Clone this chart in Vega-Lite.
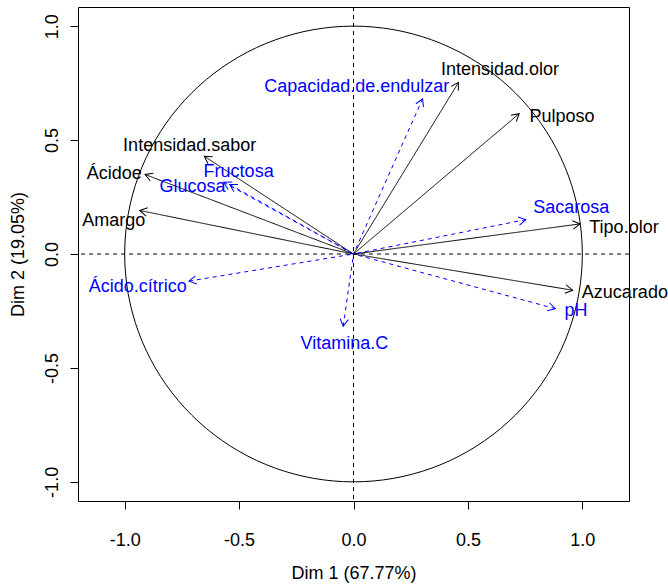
{
  "$schema": "https://vega.github.io/schema/vega-lite/v6.json",
  "width": 551,
  "height": 494,
  "autosize": {"type": "none"},
  "padding": {"left": 78, "top": 7, "right": 39, "bottom": 84},
  "background": "white",
  "config": {
    "view": {"stroke": "black", "strokeWidth": 1},
    "font": "Liberation Sans",
    "axis": {
      "domain": false,
      "grid": false,
      "tickColor": "black",
      "tickSize": 8,
      "labelColor": "black",
      "labelFontSize": 18,
      "labelFont": "Liberation Sans",
      "titleFont": "Liberation Sans",
      "titleFontSize": 18,
      "titleFontWeight": "normal",
      "titleColor": "black"
    }
  },
  "datasets": {
    "vars": [
      {"v": "Intensidad.olor", "t": "activa", "Dim1": 0.459, "Dim2": 0.753, "lx": 0.640, "ly": 0.807},
      {"v": "Pulposo", "t": "activa", "Dim1": 0.724, "Dim2": 0.616, "lx": 0.911, "ly": 0.603},
      {"v": "Tipo.olor", "t": "activa", "Dim1": 0.990, "Dim2": 0.132, "lx": 1.182, "ly": 0.116},
      {"v": "Azucarado", "t": "activa", "Dim1": 0.958, "Dim2": -0.159, "lx": 1.186, "ly": -0.169},
      {"v": "Intensidad.sabor", "t": "activa", "Dim1": -0.652, "Dim2": 0.429, "lx": -0.716, "ly": 0.476},
      {"v": "Ácidoe", "t": "activa", "Dim1": -0.911, "Dim2": 0.349, "lx": -1.046, "ly": 0.349},
      {"v": "Amargo", "t": "activa", "Dim1": -0.934, "Dim2": 0.191, "lx": -1.048, "ly": 0.143},
      {"v": "Capacidad.de.endulzar", "t": "suplementaria", "Dim1": 0.302, "Dim2": 0.681, "lx": 0.014, "ly": 0.735},
      {"v": "Sacarosa", "t": "suplementaria", "Dim1": 0.753, "Dim2": 0.151, "lx": 0.952, "ly": 0.200},
      {"v": "pH", "t": "suplementaria", "Dim1": 0.882, "Dim2": -0.240, "lx": 0.972, "ly": -0.252},
      {"v": "Vitamina.C", "t": "suplementaria", "Dim1": -0.045, "Dim2": -0.317, "lx": -0.040, "ly": -0.397},
      {"v": "Fructosa", "t": "suplementaria", "Dim1": -0.541, "Dim2": 0.305, "lx": -0.502, "ly": 0.362},
      {"v": "Glucosa", "t": "suplementaria", "Dim1": -0.567, "Dim2": 0.315, "lx": -0.704, "ly": 0.292},
      {"v": "Ácido.cítrico", "t": "suplementaria", "Dim1": -0.719, "Dim2": -0.119, "lx": -0.943, "ly": -0.143}
    ],
    "circle": [
      {"a": 0, "cx": 1, "cy": 0},
      {"a": 10, "cx": 0.9848, "cy": 0.1736},
      {"a": 20, "cx": 0.9397, "cy": 0.342},
      {"a": 30, "cx": 0.866, "cy": 0.5},
      {"a": 40, "cx": 0.766, "cy": 0.6428},
      {"a": 50, "cx": 0.6428, "cy": 0.766},
      {"a": 60, "cx": 0.5, "cy": 0.866},
      {"a": 70, "cx": 0.342, "cy": 0.9397},
      {"a": 80, "cx": 0.1736, "cy": 0.9848},
      {"a": 90, "cx": 0, "cy": 1},
      {"a": 100, "cx": -0.1736, "cy": 0.9848},
      {"a": 110, "cx": -0.342, "cy": 0.9397},
      {"a": 120, "cx": -0.5, "cy": 0.866},
      {"a": 130, "cx": -0.6428, "cy": 0.766},
      {"a": 140, "cx": -0.766, "cy": 0.6428},
      {"a": 150, "cx": -0.866, "cy": 0.5},
      {"a": 160, "cx": -0.9397, "cy": 0.342},
      {"a": 170, "cx": -0.9848, "cy": 0.1736},
      {"a": 180, "cx": -1, "cy": 0},
      {"a": 190, "cx": -0.9848, "cy": -0.1736},
      {"a": 200, "cx": -0.9397, "cy": -0.342},
      {"a": 210, "cx": -0.866, "cy": -0.5},
      {"a": 220, "cx": -0.766, "cy": -0.6428},
      {"a": 230, "cx": -0.6428, "cy": -0.766},
      {"a": 240, "cx": -0.5, "cy": -0.866},
      {"a": 250, "cx": -0.342, "cy": -0.9397},
      {"a": 260, "cx": -0.1736, "cy": -0.9848},
      {"a": 270, "cx": 0, "cy": -1},
      {"a": 280, "cx": 0.1736, "cy": -0.9848},
      {"a": 290, "cx": 0.342, "cy": -0.9397},
      {"a": 300, "cx": 0.5, "cy": -0.866},
      {"a": 310, "cx": 0.6428, "cy": -0.766},
      {"a": 320, "cx": 0.766, "cy": -0.6428},
      {"a": 330, "cx": 0.866, "cy": -0.5},
      {"a": 340, "cx": 0.9397, "cy": -0.342},
      {"a": 350, "cx": 0.9848, "cy": -0.1736}
    ]
  },
  "layer": [
    {
      "data": {"name": "circle"},
      "mark": {"type": "line", "color": "black", "strokeWidth": 1, "interpolate": "cardinal-closed"},
      "encoding": {
        "x": {
          "field": "cx", "type": "quantitative",
          "scale": {"domain": [-1.204, 1.204], "nice": false, "zero": false},
          "title": "Dim 1 (67.77%)",
          "axis": {
            "values": [-1, -0.5, 0, 0.5, 1],
            "labelExpr": "(datum.value < 0 ? '-' : '') + format(abs(datum.value), '.1f')",
            "labelPadding": 22,
            "titlePadding": 15
          }
        },
        "y": {
          "field": "cy", "type": "quantitative",
          "scale": {"domain": [-1.084, 1.084], "nice": false, "zero": false},
          "title": "Dim 2 (19.05%)",
          "axis": {
            "values": [-1, -0.5, 0, 0.5, 1],
            "labelExpr": "(datum.value < 0 ? '-' : '') + format(abs(datum.value), '.1f')",
            "labelAngle": -90,
            "labelAlign": "center",
            "labelBaseline": "bottom",
            "labelPadding": 9,
            "titlePadding": 16
          }
        },
        "order": {"field": "a", "type": "quantitative"}
      }
    },
    {
      "data": {"values": [{"z": 0}]},
      "mark": {"type": "rule", "color": "black", "strokeWidth": 1, "strokeDash": [4, 4]},
      "encoding": {"y": {"field": "z", "type": "quantitative", "title": "Dim 2 (19.05%)"}}
    },
    {
      "data": {"values": [{"z": 0}]},
      "mark": {"type": "rule", "color": "black", "strokeWidth": 1, "strokeDash": [4, 4]},
      "encoding": {"x": {"field": "z", "type": "quantitative", "title": "Dim 1 (67.77%)"}}
    },
    {
      "data": {"name": "vars"},
      "mark": {"type": "rule", "strokeWidth": 1},
      "encoding": {
        "x": {"field": "Dim1", "type": "quantitative", "title": "Dim 1 (67.77%)"},
        "y": {"field": "Dim2", "type": "quantitative", "title": "Dim 2 (19.05%)"},
        "x2": {"datum": 0},
        "y2": {"datum": 0},
        "color": {"field": "t", "type": "nominal", "scale": {"domain": ["activa", "suplementaria"], "range": ["#000000", "#0000ff"]}, "legend": null},
        "strokeDash": {"field": "t", "type": "nominal", "scale": {"domain": ["activa", "suplementaria"], "range": [[1, 0], [4, 4]]}, "legend": null}
      }
    },
    {
      "data": {"name": "vars"},
      "transform": [
        {"calculate": "atan2(-datum.Dim2, datum.Dim1) * 180 / PI", "as": "ang"}
      ],
      "mark": {"type": "point", "shape": "M-1,-0.577L0,0L-1,0.577", "filled": false, "size": 210, "strokeWidth": 1, "opacity": 1},
      "encoding": {
        "x": {"field": "Dim1", "type": "quantitative", "title": "Dim 1 (67.77%)"},
        "y": {"field": "Dim2", "type": "quantitative", "title": "Dim 2 (19.05%)"},
        "angle": {"field": "ang", "type": "quantitative", "scale": null},
        "color": {"field": "t", "type": "nominal", "scale": {"domain": ["activa", "suplementaria"], "range": ["#000000", "#0000ff"]}, "legend": null}
      }
    },
    {
      "data": {"name": "vars"},
      "mark": {"type": "text", "fontSize": 18, "font": "Liberation Sans", "align": "center", "baseline": "middle"},
      "encoding": {
        "x": {"field": "lx", "type": "quantitative", "title": "Dim 1 (67.77%)"},
        "y": {"field": "ly", "type": "quantitative", "title": "Dim 2 (19.05%)"},
        "text": {"field": "v", "type": "nominal"},
        "color": {"field": "t", "type": "nominal", "scale": {"domain": ["activa", "suplementaria"], "range": ["#000000", "#0000ff"]}, "legend": null}
      }
    }
  ]
}
